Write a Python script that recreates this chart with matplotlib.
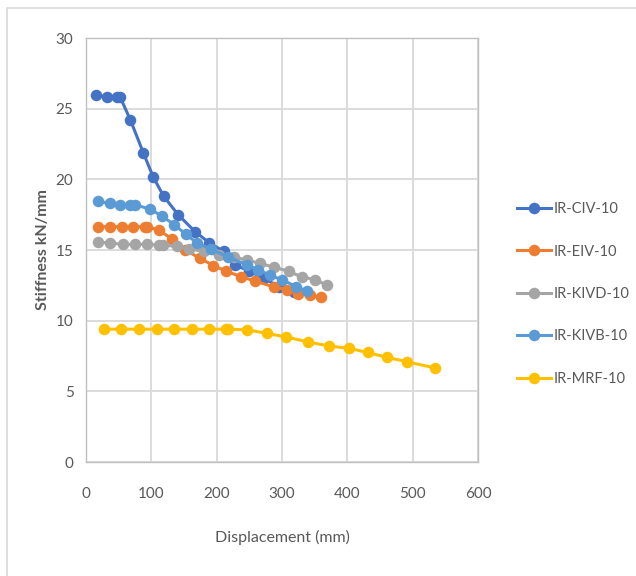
import matplotlib.pyplot as plt
from matplotlib.patches import Rectangle

plt.rcParams["font.family"] = ["Lato", "DejaVu Sans"]

# series data (displacement mm, stiffness kN/mm)
civ_x = [15, 32, 47, 52, 68, 88, 103, 119, 141, 167, 189, 211, 228, 250, 272, 296, 318]
civ_y = [26.0, 25.8, 25.85, 25.85, 24.2, 21.85, 20.15, 18.8, 17.5, 16.3, 15.5, 14.9,
         13.95, 13.5, 13.0, 12.4, 12.0]

eiv_x = [19, 37, 55, 72, 90, 93, 112, 131, 152, 175, 195, 215, 238, 259, 287, 307, 325, 343, 359]
eiv_y = [16.65, 16.65, 16.65, 16.65, 16.65, 16.65, 16.4, 15.8, 15.0, 14.4, 13.9, 13.5,
         13.1, 12.8, 12.4, 12.2, 11.9, 11.8, 11.65]

kivd_x = [19, 37, 56, 75, 93, 112, 118, 139, 157, 180, 203, 226, 246, 266, 287, 310, 330, 351, 369]
kivd_y = [15.55, 15.5, 15.4, 15.4, 15.4, 15.35, 15.35, 15.25, 15.1, 14.9, 14.65, 14.5,
          14.3, 14.05, 13.8, 13.5, 13.1, 12.9, 12.5]

kivb_x = [19, 36, 52, 67, 75, 98, 116, 135, 153, 170, 192, 218, 246, 264, 282, 300, 322, 338]
kivb_y = [18.45, 18.3, 18.2, 18.2, 18.2, 17.9, 17.4, 16.8, 16.1, 15.5, 15.05, 14.5,
          13.95, 13.6, 13.2, 12.9, 12.4, 12.1]

mrf_x = [28, 54, 81, 108, 135, 162, 189, 215, 217, 247, 277, 306, 340, 372, 402, 431, 461, 491, 534]
mrf_y = [9.4, 9.4, 9.4, 9.4, 9.4, 9.4, 9.4, 9.4, 9.4, 9.35, 9.1, 8.85, 8.5, 8.2, 8.05,
         7.75, 7.4, 7.1, 6.65]

series = [
    ("IR-CIV-10", civ_x, civ_y, "#4472C4"),
    ("IR-EIV-10", eiv_x, eiv_y, "#ED7D31"),
    ("IR-KIVD-10", kivd_x, kivd_y, "#A5A5A5"),
    ("IR-KIVB-10", kivb_x, kivb_y, "#5B9BD5"),
    ("IR-MRF-10", mrf_x, mrf_y, "#FFC000"),
]

text_color = "#595959"

fig = plt.figure(figsize=(6.36, 5.76), dpi=100)
ax = fig.add_axes([0.1352, 0.1979, 0.6164, 0.7361])

for i, (name, xs, ys, col) in enumerate(series):
    ax.plot(xs, ys, color=col, lw=2.2, marker="o", markersize=8.3,
            markeredgewidth=0, label=name, zorder=3 + i)

ax.set_xlim(0, 600)
ax.set_ylim(0, 30)
ax.set_xticks(range(0, 601, 100))
ax.set_yticks(range(0, 31, 5))
ax.grid(True, color="#D9D9D9", lw=1.3)
ax.set_axisbelow(True)
for s in ax.spines.values():
    s.set_color("#BFBFBF")
    s.set_linewidth(1.0)
ax.tick_params(axis="y", length=0, labelsize=11, colors=text_color, pad=9)
ax.tick_params(axis="x", length=0, labelsize=11, colors=text_color, pad=18)

ax.set_xlabel("Displacement (mm)", fontsize=11.5, color=text_color, labelpad=21)
ax.set_ylabel("Stiffness kN/mm", fontsize=11.5, color=text_color,
              fontweight="bold", labelpad=4)

fig.legend(loc="center left", bbox_to_anchor=(0.813, 0.4896), frameon=False,
           fontsize=10.5, labelcolor=text_color, handlelength=2.3,
           handletextpad=0.2, labelspacing=1.95, borderpad=0, borderaxespad=0)

# outer chart border
fig.patches.append(Rectangle((7 / 636, -0.02), 1.0, 1 - 8 / 576 + 0.02,
                             transform=fig.transFigure, fill=False,
                             edgecolor="#D9D9D9", lw=1.2))

fig.savefig("out.png", dpi=100)
